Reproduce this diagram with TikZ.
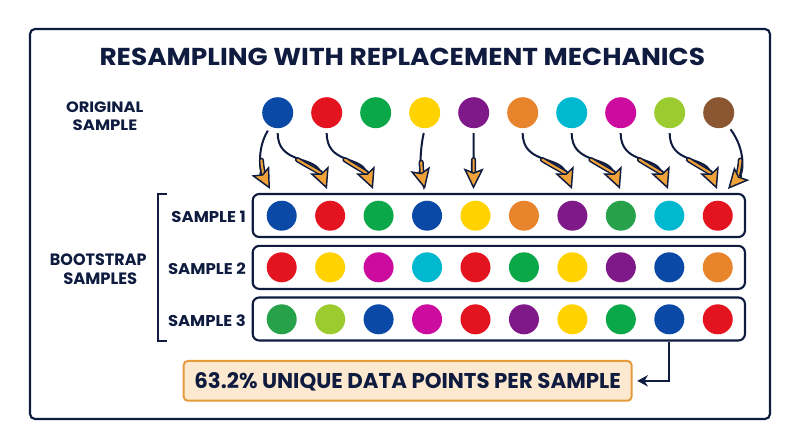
\documentclass[tikz,border=0pt]{standalone}
\usepackage{fontspec}
\setmainfont{Poppins}
\usepackage{graphicx}
\usetikzlibrary{arrows.meta,calc}
\newdimen\PXU \PXU=0.75pt
\newcommand\fitpx[3]{\resizebox{#1\PXU}{#2\PXU}{\bfseries #3}}
\definecolor{navy}{HTML}{0F1C40}
\definecolor{cblue}{HTML}{0A4AA6}
\definecolor{cred}{HTML}{E3141F}
\definecolor{cgreen}{HTML}{0BA84A}
\definecolor{cgreenb}{HTML}{27A24A}
\definecolor{cyellow}{HTML}{FFD200}
\definecolor{cpurple}{HTML}{7F1889}
\definecolor{corange}{HTML}{E8842C}
\definecolor{ccyan}{HTML}{00B8D0}
\definecolor{cmagenta}{HTML}{CC0C9E}
\definecolor{clime}{HTML}{9BCB2E}
\definecolor{cbrown}{HTML}{8A5732}
\definecolor{arrorange}{HTML}{F0A238}
\definecolor{calloutfill}{HTML}{FDE9D0}
\definecolor{calloutdraw}{HTML}{E59A3C}
% curved arrow: thin navy shaft, then orange core with navy outline, orange head
\newcommand\barrow[4]{%
  \draw[shaftthin] (#1) .. controls (#2) and (#3) .. (#4);
  \coordinate (bm) at ($0.125*(#1)+0.375*(#2)+0.375*(#3)+0.125*(#4)$);
  \coordinate (bqa) at ($0.25*(#2)+0.5*(#3)+0.25*(#4)$);
  \coordinate (bqb) at ($0.5*(#3)+0.5*(#4)$);
  \draw[shaftthick] (bm) .. controls (bqa) and (bqb) .. (#4);
  \draw[shaftcore] (bm) .. controls (bqa) and (bqb) .. (#4);
}
\begin{document}
\begin{tikzpicture}[x=0.75pt,y=-0.75pt,
  dot/.style={circle, fill=#1, inner sep=0pt, minimum size=22.5pt},
  odot/.style={circle, fill=#1, inner sep=0pt, minimum size=23.25pt},
  rowbox/.style={draw=navy, line width=1.6pt, rounded corners=5pt, minimum width=369.2pt, minimum height=32.3pt, inner sep=0pt},
  lbl/.style={inner sep=0pt, text=navy},
  shaftthin/.style={draw=navy, line width=1.5pt, shorten <=3.5pt, shorten >=14pt},
  shaftthick/.style={draw=navy, line width=3.9pt, line cap=round, shorten >=13pt},
  shaftcore/.style={draw=arrorange, line width=1.6pt, line cap=round,
     -{Stealth[length=15.5pt, width=15pt, inset=3pt, color=navy, fill=arrorange, line width=1.1pt]}},
  pointer/.style={draw=navy, line width=1.5pt, shorten >=3.5pt, -{Stealth[length=8pt, width=8.5pt]}},
  callout/.style={draw=calloutdraw, fill=calloutfill, line width=1.5pt, rounded corners=3pt,
     minimum width=335.9pt, minimum height=29.8pt, inner sep=0pt, text=navy, text depth=0pt}
]
\useasboundingbox (0,0) rectangle (800,447);
\draw[navy, line width=1.6pt, rounded corners=3.75pt] (30,29) rectangle (770,419);

\node[lbl, anchor=base] (title) at (402.3,65.7) {\fitpx{605.5}{17.4}{RESAMPLING WITH REPLACEMENT MECHANICS}};

\node[lbl, anchor=base] (orig1) at (104.7,112.3) {\fitpx{77.3}{10.7}{ORIGINAL}};
\node[lbl, anchor=base] (orig2) at (105,130.7) {\fitpx{64.6}{10.7}{SAMPLE}};
\node[lbl, anchor=base] (boot1) at (98.3,265.7) {\fitpx{96.7}{11.7}{BOOTSTRAP}};
\node[lbl, anchor=base] (boot2) at (100.3,284) {\fitpx{74}{11.7}{SAMPLES}};
\node[lbl, anchor=base east] (s1) at (246,222.3) {\fitpx{74.3}{11.4}{SAMPLE 1}};
\node[lbl, anchor=base east] (s2) at (246,274.3) {\fitpx{77.7}{11.6}{SAMPLE 2}};
\node[lbl, anchor=base east] (s3) at (246,326) {\fitpx{77.7}{11.7}{SAMPLE 3}};

% bracket
\draw[navy, line width=1.6pt] (167.3,194) -- (158.3,194) -- (158.3,340.7) -- (167.3,340.7);

% original sample
\foreach \c [count=\i] in {cblue,cred,cgreen,cyellow,cpurple,corange,ccyan,cmagenta,clime,cbrown}
  \node[odot=\c] (o\i) at ({277.7+49*(\i-1)},112.7) {};

% bootstrap rows
\node[rowbox] (box1) at (498.85,215.5) {};
\node[rowbox] (box2) at (498.85,267.4) {};
\node[rowbox] (box3) at (498.85,319) {};
\foreach \c [count=\i] in {cblue,cred,cgreen,cblue,cyellow,corange,cpurple,cgreenb,ccyan,cred}
  \node[dot=\c] (ra\i) at ({281.7+48.45*(\i-1)},215.7) {};
\foreach \c [count=\i] in {cred,cyellow,cmagenta,ccyan,cred,cgreen,cyellow,cpurple,cblue,corange}
  \node[dot=\c] (rb\i) at ({281.7+48.45*(\i-1)},267.3) {};
\foreach \c [count=\i] in {cgreenb,clime,cblue,cmagenta,cred,cpurple,cyellow,cgreen,cblue,cred}
  \node[dot=\c] (rc\i) at ({281.7+48.45*(\i-1)},319.3) {};

% arrow targets
\coordinate (t1) at (270,189);
\coordinate (t2) at (327,189);
\coordinate (t3) at (373,189);
\coordinate (t4) at (425,189);
\coordinate (t5) at (473.5,189);
\coordinate (t6) at (572,189);
\coordinate (t7) at (620,189);
\coordinate (t8) at (668,189);
\coordinate (t9) at (717,189);
\coordinate (t10) at (728,189);

\barrow{o1.242}{256,150}{261,172}{t1}
\barrow{o1.south}{277.7,164}{314,156}{t2}
\barrow{o2.south}{326.7,164}{360,156}{t3}
\barrow{o4.south}{419,155}{421,172}{t4}
\barrow{o5.south}{473.6,150}{473.6,170}{t5}
\barrow{o6.south}{522.7,164}{559,156}{t6}
\barrow{o7.south}{571.7,164}{607,156}{t7}
\barrow{o8.south}{620.7,164}{655,156}{t8}
\barrow{o9.south}{669.7,164}{704,156}{t9}
\barrow{o10.305}{746,150}{743,172}{t10}

% callout
\node[callout] (callout) at (407.65,380.85) {\fitpx{426.5}{16}{63.2\% UNIQUE DATA POINTS PER SAMPLE}};
\draw[pointer] (rc9 |- box3.south) |- (callout.east);
\end{tikzpicture}
\end{document}
